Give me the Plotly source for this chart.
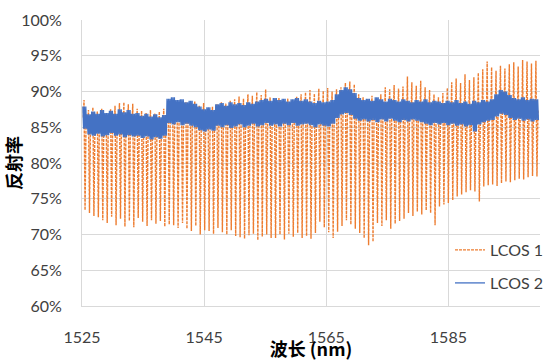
import numpy as np
import plotly.graph_objects as go

# ---------------- data ----------------
# wavelength span of the interference fringes (nm)
fringe_first_nm = 1525.5
fringe_last_nm = 1599.5

# LCOS 1 : per-fringe maximum and minimum reflectance (%)
lcos1_peak = [88.8, 87.4, 87.8, 87.2, 87.6, 86.9, 87.5,
              88.0, 88.4, 88.5, 88.2, 88.3,
              87.6, 87.3, 87.0, 87.4, 86.9, 87.2, 87.6,
              88.3, 88.6, 88.4, 88.1, 88.5, 88.2, 88.6, 88.0, 88.4,
              87.6, 87.9, 88.2, 88.5, 88.3, 88.7, 88.9,
              89.3, 89.0, 89.6, 89.4, 89.9, 89.5, 90.3,
              89.2, 88.9, 89.1, 88.7, 89.0, 88.8, 89.3,
              89.6, 89.9, 90.2, 89.7, 90.4, 90.1, 90.5, 90.0,
              90.3, 90.6,
              91.2, 91.4, 91.0,
              89.6, 89.2, 88.9, 89.4, 89.0, 89.6,
              90.6, 90.3, 90.9, 90.4, 90.7, 92.1,
              91.3, 90.8, 91.5, 90.6, 90.2,
              89.6, 89.2, 89.8, 90.5,
              91.3, 91.8, 91.2, 92.4, 91.6, 92.0, 92.6,
              93.1, 94.2, 93.4, 92.9, 93.6, 93.2,
              93.8, 94.1, 93.5, 94.4, 94.2, 93.9, 94.3]

lcos1_trough = [73.4, 73.0, 72.6, 72.4, 72.0,
                71.6, 72.5, 71.3, 72.2, 71.1, 71.9, 71.0, 72.3,
                71.8, 71.2, 72.0, 71.5, 71.9, 71.1, 71.4,
                71.3, 70.9, 71.6, 70.8, 70.5, 71.2, 70.0, 70.6,
                70.5, 70.1, 70.9, 70.3, 70.0, 70.6, 69.8,
                69.6, 69.4, 69.9, 70.1, 69.2, 69.7, 70.0, 69.5,
                69.5, 70.0, 69.3, 70.1, 69.7, 70.2, 69.5, 69.8,
                69.4, 70.2, 71.8, 71.0, 70.3, 69.5, 70.4, 71.2,
                72.0, 71.4, 70.8, 70.2,
                69.5, 68.5, 69.0,
                71.6, 71.2, 72.0, 70.8, 71.5, 71.9,
                72.2, 73.0, 72.6, 73.2, 72.8, 73.4, 73.0,
                71.3,
                73.9, 74.2, 74.4,
                74.8, 75.3, 75.6, 75.9, 76.2, 76.0, 74.6,
                76.7, 76.9, 77.0, 76.8, 77.2, 77.4, 77.3,
                77.6, 77.8, 77.7, 78.0, 78.2, 78.1]

# LCOS 2 : per-fringe upper and lower edge of the (fast-rippling) trace (%)
lcos2_upper = [87.9,
               86.8, 87.2, 86.9, 87.4, 87.0,
               87.3, 86.9, 87.5, 87.1, 87.4, 86.9,
               87.0, 86.6, 86.9, 86.5, 86.8, 86.4, 86.7,
               89.0, 89.2, 88.8, 88.9,
               88.5, 88.7, 88.3,
               87.9, 87.5, 87.8, 87.4,
               88.2, 88.4, 88.0, 88.5, 88.2, 88.4, 88.1, 88.5, 88.3, 88.6,
               88.8, 89.0, 88.7, 89.1, 88.8, 89.0, 88.6, 88.9, 89.1, 88.7, 88.9,
               88.6, 88.4, 88.7, 88.5, 88.6, 88.8,
               89.6, 90.2, 90.6, 90.3, 89.8,
               89.1, 88.8, 89.0, 88.7, 89.2, 88.9, 88.6, 89.0, 88.8, 88.6,
               88.9, 88.7, 88.5, 88.8, 88.6, 88.9, 88.5, 88.7, 88.6,
               88.4, 88.7, 88.5, 88.8, 88.4, 88.6, 88.3, 88.7, 88.5, 88.8, 88.6, 88.9,
               89.6, 90.2, 90.0, 89.5,
               89.1, 88.9, 89.2, 88.8, 89.0, 88.9]

lcos2_lower = [84.8,
               84.0, 83.8, 84.1, 83.7, 83.9, 84.2, 83.8, 84.0, 83.6, 83.9, 83.7,
               83.8, 83.5, 83.7, 83.3, 83.6, 83.4, 83.8,
               85.6, 85.4, 85.7, 85.3, 85.5, 85.2, 85.0,
               84.6, 84.4, 84.7, 84.5,
               85.2, 85.0, 85.3, 84.9, 85.1, 85.4, 85.0, 85.2, 85.5, 85.1, 85.3,
               85.6, 85.2, 85.4, 85.1, 85.5, 85.3, 85.6, 85.2, 85.4, 85.5,
               85.3, 85.0, 85.4, 85.2, 85.1, 85.5,
               86.3, 86.8, 87.0, 86.7, 86.2,
               85.9, 86.1, 85.8, 86.0, 85.7, 86.1, 85.8, 86.2, 85.9, 85.7,
               86.0, 85.8, 86.1, 85.9, 85.7, 85.5, 85.3, 85.6, 85.4,
               85.6, 85.3, 85.5, 85.2, 85.4, 85.1, 85.3, 84.4, 85.4, 85.7, 85.9, 86.0,
               86.5, 86.9, 86.7, 86.3,
               86.0, 86.2, 85.9, 86.1, 85.8, 86.0]

x_tick_vals = [1525, 1545, 1565, 1585]
y_tick_vals = [60, 65, 70, 75, 80, 85, 90, 95, 100]
y_tick_text = [f"{v}%" for v in y_tick_vals]
series_names = ["LCOS 1", "LCOS 2"]

# ---------------- build traces ----------------
n = len(lcos1_peak)
centres = np.linspace(fringe_first_nm, fringe_last_nm, n)
half = (centres[1] - centres[0]) / 2.0

x1, y1 = [], []
for c, pk, tr, up, lo in zip(centres, lcos1_peak, lcos1_trough, lcos2_upper, lcos2_lower):
    plateau = (up + lo) / 2.0
    x1 += [c - 0.28, c - 0.17, c, c + 0.17]
    y1 += [plateau, pk, tr, plateau]

x2, y2 = [], []
sub = 6
for c, up, lo in zip(centres, lcos2_upper, lcos2_lower):
    xs = np.linspace(c - half, c + half, sub, endpoint=False)
    for j, xx in enumerate(xs):
        x2.append(xx)
        y2.append(up if j % 2 == 0 else lo)

ORANGE = "#ED7D31"
BLUE = "#4472C4"
TXT = "#404040"
GRID = "#D9D9D9"
FONT = "Lato, Liberation Sans, sans-serif"
CJK = "Noto Sans CJK SC, sans-serif"

fig = go.Figure()
fig.add_trace(go.Scatter(x=x1, y=y1, mode="lines", name=series_names[0],
                         line=dict(color=ORANGE, width=1.4, dash="3px,1px"),
                         legend="legend"))
fig.add_trace(go.Scatter(x=x2, y=y2, mode="lines", name=series_names[1],
                         line=dict(color=BLUE, width=1.3),
                         legend="legend2"))

W, H = 548, 361
L, R, T, B = 82, 8, 20, 55

legend_common = dict(font=dict(family=FONT, size=16, color=TXT),
                     bgcolor="rgba(255,255,255,0)", borderwidth=0,
                     xref="container", yref="container",
                     xanchor="left", yanchor="middle", itemwidth=30)

fig.update_layout(
    width=W, height=H,
    margin=dict(l=L, r=R, t=T, b=B, pad=0, autoexpand=False),
    paper_bgcolor="white", plot_bgcolor="white",
    font=dict(family=FONT, size=16, color=TXT),
    legend=dict(x=450 / W, y=1 - 250 / H, **legend_common),
    legend2=dict(x=450 / W, y=1 - 283 / H, **legend_common),
    showlegend=True,
)

fig.update_xaxes(
    range=[1525, 1600], tickvals=x_tick_vals, ticktext=[str(v) for v in x_tick_vals],
    showgrid=True, gridcolor=GRID, gridwidth=1, zeroline=False,
    showline=True, linecolor=GRID, linewidth=1,
    ticks="", ticklabelstandoff=17,
    tickfont=dict(family=FONT, size=16, color=TXT),
    title=dict(text="波长 (nm)", font=dict(family=CJK, size=18, color="#000000", weight="bold"),
               standoff=0),
    automargin=False,
)
fig.update_yaxes(
    range=[60, 100], tickvals=y_tick_vals, ticktext=y_tick_text,
    showgrid=True, gridcolor=GRID, gridwidth=1, zeroline=False,
    showline=True, linecolor=GRID, linewidth=1,
    ticks="", ticklabelstandoff=16,
    tickfont=dict(family=FONT, size=16, color=TXT),
    title=dict(text="反射率", font=dict(family=CJK, size=18, color="#000000", weight="bold"),
               standoff=0),
    automargin=False,
)

fig.write_html("out.html")
